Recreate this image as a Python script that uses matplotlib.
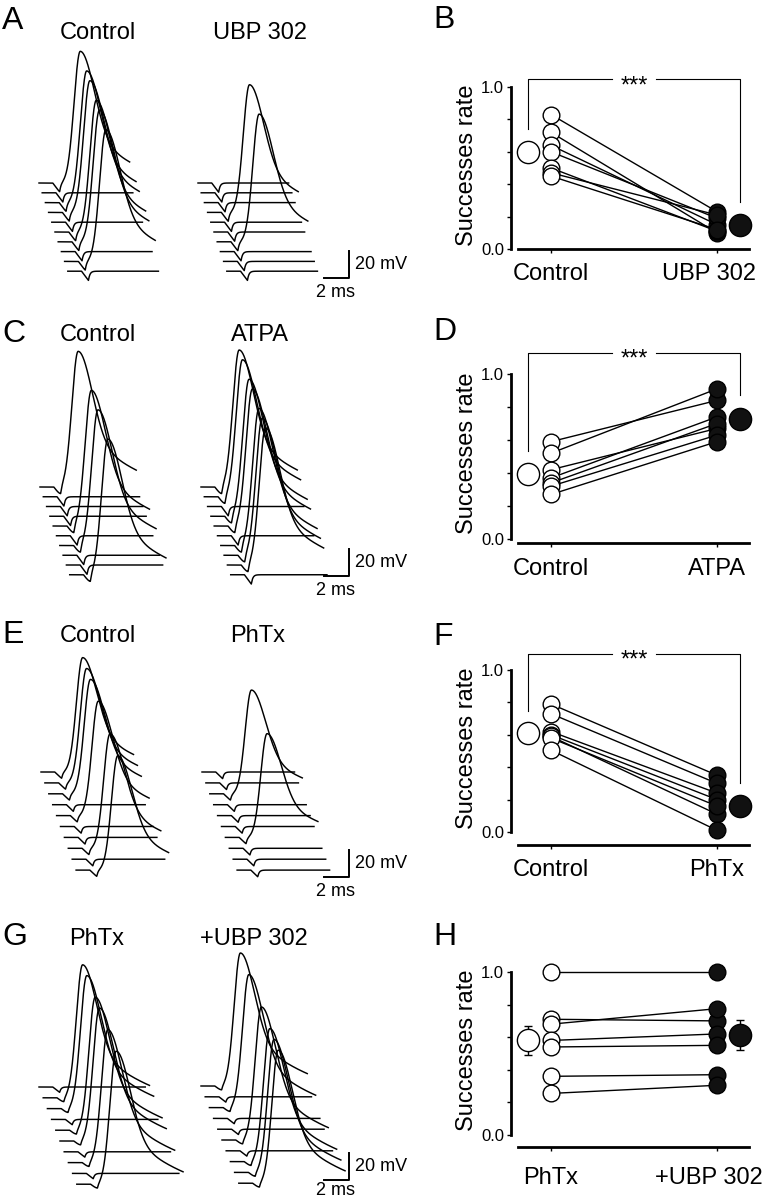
import numpy as np
import matplotlib.pyplot as plt

plt.rcParams["font.family"] = ["Liberation Sans", "DejaVu Sans"]

W, H = 768, 1200
PX_MS = 12.5    # pixels per ms in the sweep panels
PX_MV = 1.33    # pixels per mV
N_SWEEPS = 10

# Sweeps (counted top to bottom) that fired a spike
hits_A_ctrl = [0, 2, 3, 5, 6, 8]
hits_A_ubp = [3, 6]
hits_C_ctrl = [0, 4, 6, 9]
hits_C_atpa = [0, 1, 3, 4, 6, 7, 8]
hits_E_ctrl = [0, 1, 2, 4, 7, 9]
hits_E_phtx = [2, 6]
hits_G_phtx = [1, 2, 4, 5, 7, 9]
hits_G_ubp = [0, 2, 5, 7, 8, 9]

# Spike amplitude (mV), left / right stack of each row
amp_A = [99, 96]
amp_C = [102, 103]
amp_E = [86, 78]
amp_G = [100, 100]

# Success rates, paired cells
ctrl_B = [0.83, 0.72, 0.64, 0.60, 0.50, 0.47, 0.45]
ubp_B = [0.23, 0.10, 0.15, 0.19, 0.11, 0.21, 0.12]
mean_B = [0.60, 0.15]

ctrl_D = [0.59, 0.52, 0.42, 0.37, 0.34, 0.32, 0.27]
atpa_D = [0.84, 0.91, 0.67, 0.74, 0.70, 0.63, 0.59]
mean_D = [0.395, 0.73]

ctrl_F = [0.79, 0.73, 0.62, 0.60, 0.59, 0.58, 0.505]
phtx_F = [0.35, 0.30, 0.24, 0.20, 0.11, 0.16, 0.01]
mean_F = [0.61, 0.16]

phtx_H = [1.0, 0.71, 0.68, 0.58, 0.54, 0.36, 0.255]
ubp_H = [1.0, 0.70, 0.775, 0.62, 0.55, 0.37, 0.305]
mean_H = [0.58, 0.615]
sem_H = [0.087, 0.092]

fig = plt.figure(figsize=(W / 100, H / 100), dpi=100)


def px_axes(x, y, w, h):
    ax = fig.add_axes([x / W, 1 - (y + h) / H, w / W, h / H])
    ax.patch.set_visible(False)
    return ax


def put(x, y, s, **kw):
    fig.text(x / W, 1 - y / H, s, **kw)


def sweep(t, amp, dip, t_pk):
    # stimulus artifact (slow fall, fast recovery) plus an optional spike
    v = np.zeros_like(t)
    fall = (t > 1.1) & (t <= 1.65)
    v[fall] = -dip * (t[fall] - 1.1) / 0.55
    rec = t > 1.65
    v[rec] = -dip * np.exp(-(t[rec] - 1.65) / 0.12)
    d = t - t_pk
    rise = np.exp(-0.5 * (d / 0.5) ** 2)
    decay = 0.7 * np.exp(-0.5 * (d / 1.1) ** 2) + 0.3 * np.exp(-0.5 * (d / 3.5) ** 2)
    return v + amp * np.where(d < 0, rise, decay)


def stack(x0, y0, hits, amp, dur, step, dip, t_pk):
    left, right, up, down = 12, 180, 170, 125
    ax = px_axes(x0 - left, y0 - up, left + right, up + down)
    ax.set_xlim(-left / PX_MS, right / PX_MS)
    ax.set_ylim(-down / PX_MV, up / PX_MV)
    ax.axis("off")
    t = np.linspace(0, dur, 800)
    for i in range(N_SWEEPS):
        a = amp if i in hits else 0
        ax.plot(t + i * step[0] / PX_MS, sweep(t, a, dip, t_pk) - i * step[1] / PX_MV,
                color="k", lw=1.05, clip_on=False)
    return ax


def scale_bar(ax, x0, y0, corner, ms_drop=19):
    cx = (corner[0] - x0) / PX_MS
    cy = -(corner[1] - y0) / PX_MV
    ax.plot([cx - 2, cx, cx], [cy, cy, cy + 20], color="k", lw=1.4, clip_on=False)
    put(corner[0] + 6, corner[1] - 9, "20 mV", fontsize=13, va="baseline")
    put(corner[0] - 13, corner[1] + ms_drop, "2 ms", fontsize=13, ha="center", va="baseline")


def rate_panel(y_one, y_zero, labels, pre, post, means, sems=None, bracket=None,
               drop=0.0, lab_gap=23, lab_shift=0):
    x_c, ppx = 551, 166
    ppu = y_zero - y_one
    xl, yl = (-0.32, 1.3), (-0.2, 1.25)
    ax_x = x_c + xl[0] * ppx
    ax_w = (xl[1] - xl[0]) * ppx
    ax = px_axes(ax_x, y_zero - yl[1] * ppu, ax_w, (yl[1] - yl[0]) * ppu)
    ax.set_xlim(xl)
    ax.set_ylim(yl)

    for a, b in zip(pre, post):
        ax.plot([0, 1], [a, b], color="k", lw=1.0, zorder=1)
    ax.plot(np.zeros(len(pre)), pre, "o", ms=12, mfc="white", mec="k", mew=1.0, zorder=2)
    ax.plot(np.ones(len(post)), post, "o", ms=12, mfc="#111111", mec="k", mew=1.0, zorder=2)

    err = sems if sems is not None else [None, None]
    for xm, m, e, fc in zip([-0.14, 1.14], means, err, ["white", "#111111"]):
        ax.errorbar(xm, m, yerr=e, fmt="o", ms=16, mfc=fc, mec="k", mew=1.0,
                    ecolor="k", elinewidth=1, capsize=3, zorder=3)

    if bracket is not None:
        lw = 0.8
        ax.plot([-0.14, -0.14, 0.37], [means[0] + 0.14, bracket, bracket],
                color="k", lw=lw, clip_on=False)
        ax.plot([0.63, 1.14, 1.14], [bracket, bracket, means[1] + 0.14],
                color="k", lw=lw, clip_on=False)
        ax.annotate("***", (0.5, bracket), xytext=(0, -9.5), textcoords="offset points",
                    ha="center", va="baseline", fontsize=17)

    for s in ["top", "right"]:
        ax.spines[s].set_visible(False)
    ax.spines["left"].set_position(("data", -0.24))
    ax.spines["left"].set_bounds(0, 1)
    ax.spines["bottom"].set_position(("data", -drop))
    ax.spines["bottom"].set_bounds(-0.2, 1.19)
    for s in ["left", "bottom"]:
        ax.spines[s].set_linewidth(2)

    ax.set_yticks([0, 1], ["0.0", "1.0"])
    ax.set_yticks([0.2, 0.4, 0.6, 0.8], minor=True)
    ax.tick_params(axis="y", which="both", length=3, width=1, pad=2, labelsize=12)
    ax.set_xticks([0, 1], ["", ""])
    ax.tick_params(axis="x", length=3, width=1)
    # group names drawn under the ticks (the long drug name sits a bit left)
    for xpos, lab, dx in zip([0, 1], labels, [0, lab_shift]):
        ax.annotate(lab, (xpos, -drop), xytext=(dx * 0.72, -lab_gap * 0.72),
                    textcoords="offset points", ha="center", va="center_baseline",
                    fontsize=17, annotation_clip=False)

    ax.set_ylabel("Successes rate", fontsize=17)
    ax.yaxis.set_label_coords((478 - ax_x) / ax_w, (0.52 - yl[0]) / (yl[1] - yl[0]))
    return ax


# ---- row A / B ----
ax = stack(39, 183, hits_A_ctrl, amp_A[0], 7.25, (3.2, 9.8), 7, 3.3)
ax = stack(198, 183, hits_A_ubp, amp_A[1], 7.25, (3.2, 9.8), 7, 3.35)
scale_bar(ax, 198, 183, (349, 278))
rate_panel(87, 249, ["Control", "UBP 302"], ctrl_B, ubp_B, mean_B, bracket=1.05,
           lab_gap=23, lab_shift=-8)

# ---- row C / D ----
ax = stack(40, 487, hits_C_ctrl, amp_C[0], 7.7, (3.3, 9.75), 7, 3.05)
ax = stack(201, 487, hits_C_atpa, amp_C[1], 7.7, (3.3, 9.75), 7, 3.05)
scale_bar(ax, 201, 487, (349, 576))
rate_panel(374, 539, ["Control", "ATPA"], ctrl_D, atpa_D, mean_D, bracket=1.13,
           drop=0.024, lab_gap=24)

# ---- row E / F ----
ax = stack(41, 772, hits_E_ctrl, amp_E[0], 7.4, (3.9, 10.9), 5, 3.33)
ax = stack(202, 772, hits_E_phtx, amp_E[1], 7.4, (3.9, 10.9), 5, 3.33)
scale_bar(ax, 202, 772, (349, 877))
rate_panel(670, 832, ["Control", "PhTx"], ctrl_F, phtx_F, mean_F, bracket=1.10,
           drop=0.08, lab_gap=23)

# ---- row G / H ----
ax = stack(39, 1087, hits_G_phtx, amp_G[0], 8.5, (4.2, 10.8), 4, 3.15)
ax = stack(201, 1086, hits_G_ubp, amp_G[1], 8.5, (4.2, 10.8), 4, 3.15)
scale_bar(ax, 201, 1086, (349, 1180), ms_drop=15)
rate_panel(972, 1135, ["PhTx", "+UBP 302"], phtx_H, ubp_H, mean_H, sems=sem_H,
           drop=0.074, lab_gap=28, lab_shift=-8)

# ---- panel letters and stack titles ----
for x, y, s in [(2, 29, "A"), (433, 28, "B"), (2, 342, "C"), (433, 340, "D"),
                (2, 643, "E"), (433, 645, "F"), (2, 945, "G"), (433, 945, "H")]:
    put(x, y, s, fontsize=23, va="baseline")

for x, y, s in [(98, 39, "Control"), (260, 39, "UBP 302"),
                (98, 341, "Control"), (260, 341, "ATPA"),
                (98, 642, "Control"), (258, 642, "PhTx"),
                (97, 945, "PhTx"), (254, 945, "+UBP 302")]:
    put(x, y, s, fontsize=17, ha="center", va="baseline")

fig.savefig("out.png", dpi=100)
